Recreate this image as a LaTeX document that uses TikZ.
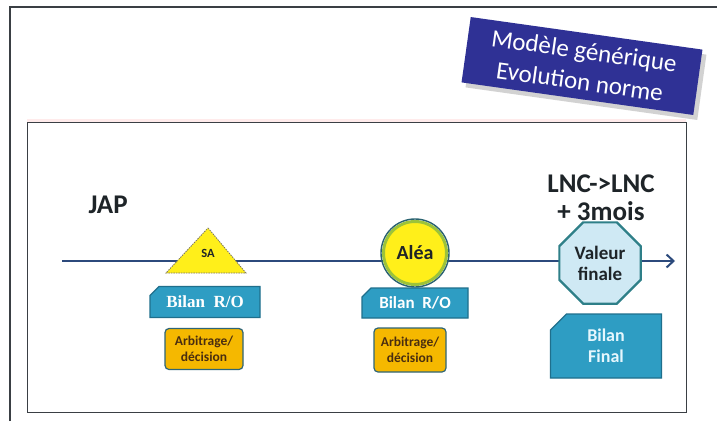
\documentclass[tikz,border=0pt]{standalone}
\usepackage{fontspec}
\setmainfont{Carlito}
\newfontfamily\serifb{Liberation Serif}
\usetikzlibrary{shapes.geometric,shapes.misc,arrows.meta,shadows}
\definecolor{frame}{HTML}{3A3F44}
\definecolor{lblue}{HTML}{2F3195}
\definecolor{tline}{HTML}{2C4A7C}
\definecolor{teal}{HTML}{2E9DC3}
\definecolor{tealb}{HTML}{1F6F8C}
\definecolor{arb}{HTML}{F5B800}
\definecolor{arbb}{HTML}{2E6577}
\definecolor{yel}{HTML}{FFEF1A}
\definecolor{agreen}{HTML}{9CC33A}
\definecolor{dteal}{HTML}{2A6370}
\definecolor{octf}{HTML}{CFE9F4}
\definecolor{octb}{HTML}{2E7F88}
\definecolor{txt}{HTML}{1E2428}
\definecolor{brn}{HTML}{4A2E10}
\tikzset{
  bilanbox/.style={chamfered rectangle, chamfered rectangle corners=north west,
    chamfered rectangle xsep=5pt, chamfered rectangle ysep=4pt,
    fill=teal, draw=tealb, line width=1.2pt, inner sep=0pt, text=white},
  arbbox/.style={rectangle, rounded corners=4pt, fill=arb, draw=arbb, line width=1.2pt,
    align=center, text=brn, font=\bfseries\fontsize{13.5}{16}\selectfont, inner sep=0pt},
  bigtxt/.style={text=txt, font=\bfseries\fontsize{27}{28}\selectfont, align=center}
}
\begin{document}
\begin{tikzpicture}[x=1pt,y=-1pt]
\useasboundingbox (0,0) rectangle (717,421);
\fill[white] (0,0) rectangle (717,421);
% outer frame
\coordinate (obl) at (10,421);
\coordinate (otl) at (10,7);
\coordinate (otr) at (717,7);
\draw[frame, line width=1.5pt] (obl) -- (otl) -- (otr);
% inner panel
\fill[red!8] (27,119) rectangle (686,122);
\node[draw=frame, line width=1.2pt, minimum width=659pt, minimum height=290pt, anchor=north west, inner sep=0pt] (panel) at (27,122) {};
% label
\node[fill=lblue, rotate=-8, minimum width=234pt, minimum height=66pt, text=white,
  font=\fontsize{25}{31}\selectfont, align=center, inner sep=0pt,
  drop shadow={shadow xshift=4pt, shadow yshift=-5pt, opacity=0.35}] (label) at (582,66) {Modèle générique\\Evolution norme};
% texts
\node[bigtxt, anchor=base west] (jap) at (85,213) {JAP};
\node[bigtxt, font=\bfseries\fontsize{27}{28}\selectfont] (lnc) at (601,198) {LNC->LNC\\+ 3mois};
% timeline
\coordinate (tstart) at (62,261);
\coordinate (tend) at (675,261);
\draw[tline, line width=2pt, -{Straight Barb[length=7pt,width=13pt,line width=2pt]}] (tstart) -- (tend);
% SA triangle
\coordinate (sa1) at (208,228);
\coordinate (sa2) at (246,273);
\coordinate (sa3) at (166,273);
\fill[yel] (sa1) -- (sa2) -- (sa3) -- cycle;
\draw[gray!70!yellow!60!black, dashed, dash pattern=on 1.5pt off 1pt, line width=0.8pt] (sa1) -- (sa2) -- (sa3) -- cycle;
\node[text=txt, font=\bfseries\fontsize{12.5}{12}\selectfont] (sa) at (208,253) {SA};
% Alea
\node[circle, fill=yel, draw=agreen, line width=3pt, minimum size=63pt, inner sep=0pt,
  text=txt, font=\bfseries\fontsize{20}{20}\selectfont] (alea) at (415,253) {Aléa};
\draw[dteal, line width=1.4pt] (alea.center) circle (34);
% Valeur finale
\node[regular polygon, regular polygon sides=8, minimum size=88pt, fill=octf, draw=octb,
  line width=2.2pt, inner sep=0pt, align=center, text=txt,
  font=\bfseries\fontsize{19}{21}\selectfont] (vf) at (600,263) {Valeur\\finale};
% Bilan boxes
\node[bilanbox, minimum width=110pt, minimum height=31pt, font=\serifb\bfseries\fontsize{17}{17}\selectfont] (b1) at (205,302) {Bilan\ \ R/O};
\node[bilanbox, minimum width=106pt, minimum height=30pt, font=\bfseries\fontsize{17}{17}\selectfont] (b2) at (415,303) {Bilan\ \ R/O};
\node[bilanbox, chamfered rectangle xsep=8pt, chamfered rectangle ysep=8pt, minimum width=111pt, minimum height=64pt, align=center, text=white!90!cyan,
  font=\bfseries\fontsize{18}{21}\selectfont] (bf) at (606,346) {Bilan\\Final};
% Arbitrage
\node[arbbox, minimum width=78pt, minimum height=41pt] (a1) at (204,349) {Arbitrage/\\décision};
\node[arbbox, minimum width=72pt, minimum height=44pt] (a2) at (410,350) {Arbitrage/\\décision};
\end{tikzpicture}
\end{document}
